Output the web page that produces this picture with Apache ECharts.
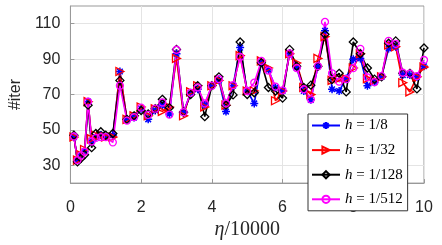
<!DOCTYPE html>
<html>
<head>
<meta charset="utf-8">
<script src="https://cdn.jsdelivr.net/npm/echarts@6/dist/echarts.min.js"></script>
<style>html,body{margin:0;padding:0;background:#fff;}#c{width:442px;height:245px;}</style>
</head>
<body>
<div id="c"></div>
<script>
const etaVals = [0.1,0.2,0.3,0.4,0.5,0.6,0.72,0.86,1.0,1.2,1.4,1.6,1.8,2.0,2.2,2.4,2.6,2.8,3.0,3.2,3.4,3.6,3.8,4.0,4.2,4.4,4.6,4.8,5.0,5.2,5.4,5.6,5.8,6.0,6.2,6.4,6.6,6.8,7.0,7.2,7.4,7.6,7.8,8.0,8.2,8.4,8.6,8.8,9.0,9.2,9.4,9.6,9.8,10.0];
const iterH8 = [46,33,36,38,66,44,46,47,46,47,83,56,57,62,56,61,64,59,93,60,71,73,64,75,78,60.4,75,96.5,72,65,88,84,74,72,93,85,72,67,86,106,73,72,79,90,90.4,75,77,80,96,97,81,81,80,86];
const iterH32 = [46,33,36,39,66,45,47,47,46,46,83,56,58,63,58,62,60.5,63,90.4,58,71.5,75,63,75,78,64,75,92,72,72,89,85,66.5,72,93,87.8,74,70,90.4,102.7,78,79,79,85,93,79,78,80,98,97,76.7,71.5,80,85.5];
const iterH128 = [47,32,34,36,64,40,48,49,47,48,78,56,58,61,59,62,67.3,62.6,95.5,60,70,75,57.5,75,80,64,69.8,99.7,70,71,88,74,72,68,95.5,86,74,75.3,86,104,78.4,82,71.5,99.7,93,85,78.7,80,99,100.3,82,82,73.2,96.3];
const iterH512 = [46.3,33,35.6,37.7,66,43.5,45.5,46,46,43,75,55.3,57.3,62.6,58.5,62,65.5,58.7,95.3,60,71,74,65,75,78.7,65,75.3,91.2,72,76.7,89,83.5,74.5,72.4,93.2,85,73,67.3,86,111,82,77.3,78.7,84.9,95.8,79.7,77,80.4,100.3,98.6,82.3,81.8,80.4,89.5];
const seriesNames = ['h = 1/8','h = 1/32','h = 1/128','h = 1/512'];
const yTicks = [30,50,70,90,110];

const chart = echarts.init(document.getElementById('c'), null, {renderer:'canvas'});
const pts = arr => etaVals.map((x,i)=>[x,arr[i]]);
const asterisk = 'path://M0,-10L0,10M-10,0L10,0M-7,-7L7,7M-7,7L7,-7';
function mk(name, arr, color, symbol, size, rotate, bw){
  return {
    name, type:'line', data: pts(arr), symbol, symbolSize:size, symbolRotate: rotate||0,
    showAllSymbol:true,
    lineStyle:{color, width:1.6},
    itemStyle:{color:'rgba(0,0,0,0)', borderColor:color, borderWidth:bw||1.3},
    emphasis:{disabled:true}
  };
}
chart.setOption({
  animation:false,
  backgroundColor:'#fff',
  grid:{left:64, right:18, top:6, bottom:45, show:true, borderColor:'#999', borderWidth:1, backgroundColor:'transparent'},
  xAxis:{
    type:'value', min:0, max:10, interval:2,
    axisLine:{show:true, lineStyle:{color:'#999', width:1}},
    axisTick:{show:true, inside:true, length:4, lineStyle:{color:'#999'}},
    axisLabel:{color:'#262626', fontSize:16, fontFamily:'Liberation Sans', margin:16},
    splitLine:{show:true, lineStyle:{color:'#e4e4e4', width:1}},
    name:'{g|η}{n|/10000}', nameLocation:'middle', nameGap:28,
    nameTextStyle:{rich:{g:{fontFamily:'Liberation Serif', fontStyle:'italic', fontSize:20, color:'#262626'}, n:{fontFamily:'Liberation Serif', fontSize:20, color:'#262626'}}}
  },
  yAxis:{
    type:'value', min:20, max:120,
    axisLine:{show:true, lineStyle:{color:'#999', width:1}},
    axisTick:{show:true, inside:true, length:4, lineStyle:{color:'#999'}, customValues:yTicks},
    axisLabel:{color:'#262626', fontSize:16, fontFamily:'Liberation Sans', margin:10, customValues:yTicks},
    splitLine:{show:true, lineStyle:{color:'#e4e4e4', width:1}},
    name:'#iter', nameLocation:'middle', nameGap:44,
    nameTextStyle:{fontFamily:'Liberation Sans', fontSize:16, color:'#262626'}
  },
  legend:{
    orient:'vertical', left:308, top:114,
    itemWidth:28, itemHeight:9, itemGap:9.6,
    padding:[4,5,4,3],
    borderColor:'#333', borderWidth:1, backgroundColor:'#fff',
    data: seriesNames,
    formatter: n => '{i|h}{n| = ' + n.split('= ')[1] + '}',
    textStyle:{rich:{i:{fontFamily:'Liberation Serif', fontStyle:'italic', fontSize:15, color:'#000'}, n:{fontFamily:'Liberation Serif', fontSize:15, color:'#000'}}}
  },
  series:[
    mk(seriesNames[0], iterH8, '#0000ff', asterisk, 8, 0, 1.5),
    mk(seriesNames[1], iterH32, '#ff0000', 'triangle', 8, -90),
    mk(seriesNames[2], iterH128, '#000000', 'diamond', 8),
    mk(seriesNames[3], iterH512, '#ff00ff', 'circle', 7)
  ]
});
</script>
</body>
</html>
